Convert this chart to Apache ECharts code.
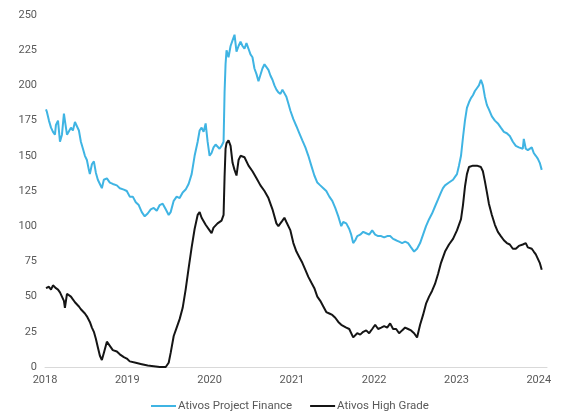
<!DOCTYPE html>
<html>
<head>
<meta charset="utf-8">
<script src="https://cdn.jsdelivr.net/npm/echarts@6/dist/echarts.min.js"></script>
<style>
  html, body { margin: 0; padding: 0; background: #ffffff; }
  #chart { width: 563px; height: 419px; }
</style>
</head>
<body>
<div id="chart"></div>
<script>
// X-axis tick labels (years)
var yearTicks = [2018, 2019, 2020, 2021, 2022, 2023, 2024];

// Series names
var seriesNames = ['Ativos Project Finance', 'Ativos High Grade'];

// Ativos Project Finance: dates (decimal years) and values
var pfDates = [
  2018.012, 2018.024, 2018.048, 2018.073, 2018.097, 2018.121, 2018.133, 2018.158, 2018.182, 2018.206,
  2018.230, 2018.242, 2018.267, 2018.291, 2018.315, 2018.339, 2018.364, 2018.388, 2018.412, 2018.436,
  2018.461, 2018.485, 2018.509, 2018.533, 2018.545, 2018.570, 2018.594, 2018.618, 2018.642, 2018.667,
  2018.691, 2018.715, 2018.752, 2018.788, 2018.824, 2018.873, 2018.909, 2018.958, 2018.994, 2019.030,
  2019.067, 2019.103, 2019.139, 2019.176, 2019.212, 2019.248, 2019.285, 2019.321, 2019.358, 2019.394,
  2019.430, 2019.467, 2019.503, 2019.527, 2019.564, 2019.600, 2019.636, 2019.673, 2019.709, 2019.745,
  2019.782, 2019.818, 2019.855, 2019.879, 2019.903, 2019.927, 2019.952, 2019.976, 2020.000, 2020.024,
  2020.048, 2020.073, 2020.097, 2020.121, 2020.145, 2020.170, 2020.182, 2020.194, 2020.206, 2020.230,
  2020.255, 2020.279, 2020.303, 2020.327, 2020.352, 2020.376, 2020.400, 2020.424, 2020.448, 2020.473,
  2020.497, 2020.521, 2020.545, 2020.570, 2020.594, 2020.618, 2020.642, 2020.667, 2020.691, 2020.715,
  2020.739, 2020.764, 2020.788, 2020.812, 2020.836, 2020.861, 2020.885, 2020.909, 2020.933, 2020.958,
  2020.982, 2021.018, 2021.055, 2021.091, 2021.127, 2021.164, 2021.200, 2021.236, 2021.273, 2021.309,
  2021.345, 2021.382, 2021.418, 2021.455, 2021.491, 2021.527, 2021.564, 2021.600, 2021.624, 2021.661,
  2021.697, 2021.721, 2021.745, 2021.770, 2021.794, 2021.830, 2021.867, 2021.903, 2021.939, 2021.976,
  2022.012, 2022.048, 2022.085, 2022.121, 2022.158, 2022.194, 2022.230, 2022.267, 2022.303, 2022.339,
  2022.376, 2022.412, 2022.448, 2022.485, 2022.521, 2022.558, 2022.594, 2022.630, 2022.667, 2022.703,
  2022.739, 2022.776, 2022.812, 2022.836, 2022.861, 2022.885, 2022.909, 2022.933, 2022.958, 2022.982,
  2023.006, 2023.030, 2023.055, 2023.079, 2023.103, 2023.127, 2023.152, 2023.176, 2023.200, 2023.224,
  2023.248, 2023.273, 2023.297, 2023.321, 2023.345, 2023.370, 2023.394, 2023.430, 2023.467, 2023.503,
  2023.539, 2023.576, 2023.612, 2023.648, 2023.685, 2023.721, 2023.758, 2023.782, 2023.806, 2023.818,
  2023.842, 2023.867, 2023.891, 2023.915, 2023.939, 2023.964, 2023.988, 2024.012, 2024.036
];
var pfValues = [
  183, 181, 175, 170, 167, 165, 172, 175, 160, 165,
  180, 175, 165, 166, 170, 168, 174, 173, 168, 160,
  155, 150, 147, 140, 137, 144, 146, 138, 133, 130,
  127, 133, 134, 131, 130, 129, 127, 126, 125, 121,
  121, 117, 115, 110, 107, 109, 112, 113, 111, 115,
  116, 112, 108, 110, 118, 121, 120, 124, 126, 130,
  137, 150, 160, 168, 170, 167, 173, 160, 150, 152,
  156, 158, 157, 155, 157, 160, 195, 215, 225, 220,
  228, 232, 236, 224, 228, 231, 228, 226, 230, 226,
  222, 220, 212, 208, 203, 204, 212, 215, 213, 211,
  207, 204, 200, 197, 195, 194, 197, 196, 192, 187,
  182, 176, 171, 166, 161, 156, 150, 143, 136, 131,
  129, 127, 125, 121, 118, 113, 107, 100, 103, 102,
  98, 94, 88, 90, 93, 94, 96, 95, 94, 97,
  94, 93, 93, 92, 93, 93, 91, 90, 89, 88,
  89, 88, 85, 82, 84, 88, 94, 100, 105, 109,
  114, 119, 124, 127, 129, 130, 131, 132, 133, 135,
  137, 143, 150, 163, 175, 184, 188, 191, 193, 196,
  198, 200, 204, 200, 192, 186, 183, 178, 175, 173,
  170, 167, 166, 164, 160, 157, 156, 157, 155, 162,
  155, 154, 155, 156, 152, 150, 148, 145, 140
];

// Ativos High Grade: dates (decimal years) and values
var hgDates = [
  2018.012, 2018.048, 2018.073, 2018.097, 2018.133, 2018.158, 2018.182, 2018.206, 2018.230, 2018.242,
  2018.267, 2018.291, 2018.315, 2018.339, 2018.364, 2018.412, 2018.436, 2018.485, 2018.509, 2018.545,
  2018.570, 2018.594, 2018.618, 2018.642, 2018.667, 2018.691, 2018.715, 2018.752, 2018.788, 2018.824,
  2018.873, 2018.909, 2018.958, 2018.994, 2019.030, 2019.103, 2019.176, 2019.248, 2019.321, 2019.394,
  2019.467, 2019.503, 2019.527, 2019.564, 2019.600, 2019.636, 2019.673, 2019.709, 2019.745, 2019.782,
  2019.818, 2019.855, 2019.879, 2019.903, 2019.952, 2019.976, 2020.000, 2020.024, 2020.048, 2020.097,
  2020.145, 2020.170, 2020.182, 2020.194, 2020.206, 2020.230, 2020.255, 2020.279, 2020.303, 2020.327,
  2020.352, 2020.376, 2020.424, 2020.473, 2020.521, 2020.570, 2020.618, 2020.667, 2020.715, 2020.764,
  2020.812, 2020.836, 2020.885, 2020.909, 2020.933, 2020.982, 2021.018, 2021.055, 2021.091, 2021.127,
  2021.164, 2021.200, 2021.236, 2021.273, 2021.309, 2021.345, 2021.382, 2021.418, 2021.455, 2021.491,
  2021.527, 2021.564, 2021.600, 2021.661, 2021.697, 2021.721, 2021.745, 2021.794, 2021.830, 2021.867,
  2021.903, 2021.939, 2021.976, 2022.012, 2022.048, 2022.085, 2022.121, 2022.158, 2022.194, 2022.230,
  2022.267, 2022.303, 2022.339, 2022.376, 2022.412, 2022.448, 2022.485, 2022.521, 2022.558, 2022.594,
  2022.630, 2022.667, 2022.703, 2022.739, 2022.776, 2022.812, 2022.861, 2022.909, 2022.958, 2023.006,
  2023.055, 2023.079, 2023.103, 2023.127, 2023.152, 2023.200, 2023.248, 2023.297, 2023.321, 2023.345,
  2023.370, 2023.394, 2023.430, 2023.467, 2023.503, 2023.539, 2023.576, 2023.612, 2023.648, 2023.685,
  2023.721, 2023.758, 2023.806, 2023.842, 2023.867, 2023.915, 2023.939, 2023.964, 2023.988, 2024.012,
  2024.036
];
var hgValues = [
  56, 57, 55, 58, 56, 55, 53, 52, 47, 42,
  52, 53, 50, 48, 46, 43, 41, 38, 36, 32,
  28, 25, 20, 14, 8, 5, 10, 18, 15, 12,
  11, 9, 7, 6, 4, 3, 2, 1, 0.5, 0,
  0, 3, 10, 22, 28, 34, 42, 55, 70, 85,
  98, 108, 110, 106, 101, 100, 97, 95, 99, 102,
  104, 108, 135, 155, 159, 161, 157, 145, 140, 136,
  147, 150, 149, 143, 139, 134, 129, 125, 120, 112,
  102, 100, 104, 106, 103, 97, 88, 82, 78, 74,
  69, 64, 60, 56, 50, 47, 43, 39, 38, 37,
  35, 32, 30, 28, 27, 26, 21, 24, 23, 25,
  26, 24, 27, 30, 27, 28, 29, 28, 31, 27,
  27, 24, 26, 28, 27, 26, 24, 21, 30, 37,
  45, 50, 54, 59, 66, 74, 82, 87, 91, 97,
  105, 115, 128, 137, 142, 143, 143, 142, 139, 132,
  124, 116, 108, 101, 96, 93, 90, 88, 87, 84,
  84, 86, 87, 88, 85, 84, 82, 80, 77, 74,
  69
];

// Y-axis settings
var yMin = 0, yMax = 250, yStep = 25;

function pairs(xs, ys) {
  var out = [];
  for (var i = 0; i < xs.length; i++) out.push([xs[i], ys[i]]);
  return out;
}

var chart = echarts.init(document.getElementById('chart'), null, { renderer: 'canvas' });
var labelColor = '#595959';
var font = 'Roboto, "Liberation Sans", sans-serif';
var pfColor = '#3fb4e3';
var hgColor = '#151515';

chart.setOption({
  animation: false,
  backgroundColor: '#ffffff',
  grid: { left: 45, right: 16, top: 15, bottom: 52, containLabel: false },
  xAxis: {
    type: 'value',
    min: yearTicks[0],
    max: 2024.1,
    interval: 1,
    axisLine: { show: true, lineStyle: { color: '#d9d9d9', width: 1 } },
    axisTick: { show: false },
    splitLine: { show: false },
    axisLabel: {
      color: labelColor, fontSize: 11, fontFamily: font, margin: 8,
      showMaxLabel: false,
      formatter: function (v) {
        return yearTicks.indexOf(Math.round(v * 1000) / 1000) >= 0 ? String(v) : '';
      }
    }
  },
  yAxis: {
    type: 'value',
    min: yMin, max: yMax, interval: yStep,
    axisLine: { show: false },
    axisTick: { show: false },
    splitLine: { show: false },
    axisLabel: { color: labelColor, fontSize: 11, fontFamily: font, margin: 8 }
  },
  legend: {
    bottom: 2,
    left: 146,
    icon: 'rect',
    itemWidth: 25,
    itemHeight: 2,
    itemGap: 18,
    textStyle: { color: labelColor, fontSize: 11.5, fontFamily: font, padding: [0, 0, 0, -3] },
    data: [
      { name: seriesNames[0], itemStyle: { color: pfColor } },
      { name: seriesNames[1], itemStyle: { color: hgColor } }
    ]
  },
  series: [
    {
      name: seriesNames[0],
      type: 'line',
      symbol: 'none',
      data: pairs(pfDates, pfValues),
      lineStyle: { color: pfColor, width: 2 },
      itemStyle: { color: pfColor }
    },
    {
      name: seriesNames[1],
      type: 'line',
      symbol: 'none',
      data: pairs(hgDates, hgValues),
      lineStyle: { color: hgColor, width: 2 },
      itemStyle: { color: hgColor }
    }
  ]
});
</script>
</body>
</html>
